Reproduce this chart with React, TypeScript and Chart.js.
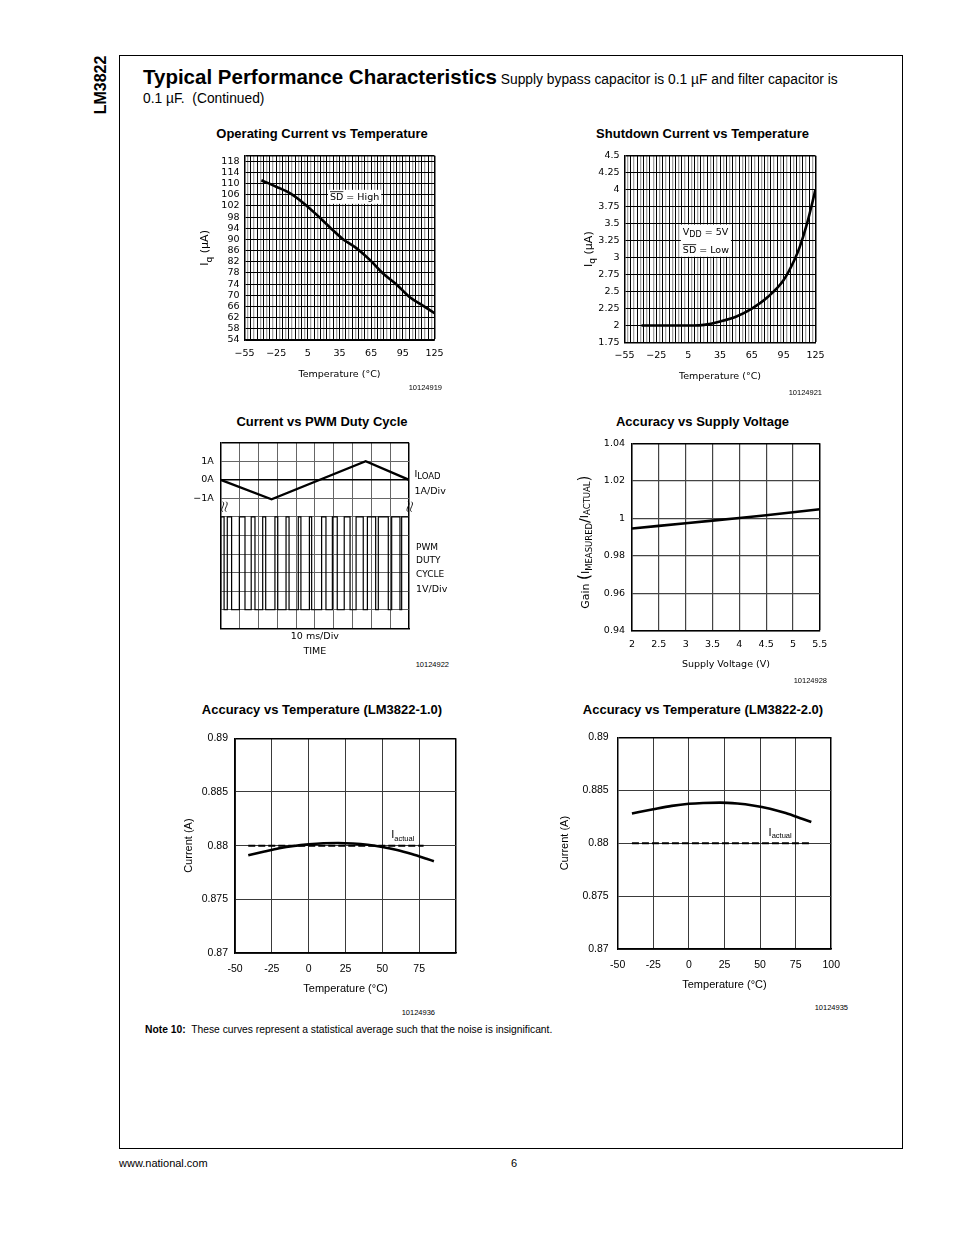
import React, { useEffect, useRef } from "react";
import { Chart, registerables } from "chart.js";

Chart.register(...registerables);

const TECH = "'DejaVu Sans', 'Liberation Sans', sans-serif";
const SANS = "'Liberation Sans', Arial, Helvetica, sans-serif";

// ===== Chart 1: Operating Current vs Temperature =====
const opTempLabels = [-55, -25, 5, 35, 65, 95, 125];
const opIqTicks = [54, 58, 62, 66, 70, 74, 78, 82, 86, 90, 94, 98, 102, 106, 110, 114, 118];
const opTemp = [-39, -25, -12, 1, 13, 26, 38, 51, 64, 76, 89, 101, 114, 125];
const opIq = [111.2, 108.9, 106.6, 103.0, 99.0, 94.3, 90.2, 86.9, 82.6, 77.9, 73.9, 69.5, 66.3, 63.6];

// ===== Chart 2: Shutdown Current vs Temperature =====
const sdTempLabels = [-55, -25, 5, 35, 65, 95, 125];
const sdIqTicks = [1.75, 2, 2.25, 2.5, 2.75, 3, 3.25, 3.5, 3.75, 4, 4.25, 4.5];
const sdTemp = [-39, -20, 0, 10, 20, 35, 50, 65, 80, 95, 105, 110, 117, 125];
const sdIq = [2.0, 2.0, 2.0, 2.0, 2.01, 2.06, 2.13, 2.25, 2.42, 2.67, 2.96, 3.15, 3.5, 4.0];

// ===== Chart 3: Current vs PWM Duty Cycle =====
const timeGridMs = [0, 10, 20, 30, 40, 50, 60, 70, 80, 90, 100];
const ampGrid = [-8, -7, -6, -5, -4, -3, -2, -1, 0, 1, 2];
const ampLabelValues = [1, 0, -1];
const ampLabelText = ["1A", "0A", "\u22121A"];
const voltLabelValues = [5, 0];
const voltLabelText = ["5V", "0V"];
const loadTimeMs = [0, 27, 77, 100];
const loadAmps = [0, -1.05, 1, 0];
const pwmRiseMs = [0, 3.5, 9.9, 16.2, 22.3, 28.8, 34.7, 41.2, 47.1, 53.6, 59.3, 65.6, 71.9, 77.9, 83.7, 90.8, 96.1];
const pwmFallMs = [1.8, 5.8, 12.9, 18.2, 23.9, 30.3, 36.3, 42.6, 48.3, 55.9, 61.9, 68.7, 75.7, 82.3, 89.0, 95.2, 100];
const pwmHighV = 5;
const pwmLowV = 0;

// ===== Chart 4: Accuracy vs Supply Voltage =====
const supplyTicks = [2, 2.5, 3, 3.5, 4, 4.5, 5, 5.5];
const gainTicks = [0.94, 0.96, 0.98, 1, 1.02, 1.04];
const supplyV = [2, 2.5, 3, 3.5, 4, 4.5, 5, 5.5];
const gainVal = [0.9946, 0.996, 0.9974, 0.9988, 1.0002, 1.0017, 1.0033, 1.0049];

// ===== Charts 5 & 6: Accuracy vs Temperature =====
const accTempTicks = [-50, -25, 0, 25, 50, 75, 100];
const acc1TempLabels = [-50, -25, 0, 25, 50, 75];
const acc2TempLabels = [-50, -25, 0, 25, 50, 75, 100];
const accCurTicks = [0.87, 0.875, 0.88, 0.885, 0.89];
const acc1Temp = [-41, -30, -20, -10, 0, 10, 20, 30, 40, 50, 60, 70, 80, 85];
const acc1Cur = [0.8791, 0.87945, 0.87975, 0.87997, 0.88012, 0.88022, 0.88025, 0.8802, 0.88008, 0.87988, 0.8796, 0.87922, 0.87878, 0.87855];
const acc1ActualTemp = [-41, 78];
const acc2Temp = [-40, -25, -12, 0, 10, 22, 34, 45, 57, 68, 80, 86];
const acc2Cur = [0.8828, 0.8832, 0.88352, 0.88372, 0.8838, 0.88383, 0.88374, 0.88356, 0.88325, 0.88284, 0.88228, 0.882];
const acc2ActualTemp = [-40, 85];
const iActual = 0.88;

// grid helper for the temperature axes of charts 1 and 2 (3 degC spacing)
const tempGrid: number[] = [];
for (let v = -55; v <= 125; v += 3) tempGrid.push(v);

const fmtMinus = (v: number) => (v < 0 ? "\u2212" + Math.abs(v) : String(v));
const setTicks = (vals: number[]) => (s: any) => {
  s.ticks = vals.map((v) => ({ value: v }));
};

type Part = { t: string; s: number; dy?: number; over?: boolean };

function richWidth(ctx: any, parts: Part[], fam: string) {
  let w = 0;
  for (const p of parts) {
    ctx.font = `${p.s}px ${fam}`;
    w += ctx.measureText(p.t).width;
  }
  return w;
}
function drawRich(ctx: any, x: number, y: number, parts: Part[], fam: string) {
  let cx = x;
  ctx.fillStyle = "#000";
  ctx.textAlign = "left";
  ctx.textBaseline = "alphabetic";
  for (const p of parts) {
    ctx.font = `${p.s}px ${fam}`;
    const yy = y + (p.dy || 0);
    ctx.fillText(p.t, cx, yy);
    const w = ctx.measureText(p.t).width;
    if (p.over) {
      ctx.save();
      ctx.strokeStyle = "#000";
      ctx.lineWidth = 0.8;
      ctx.beginPath();
      const oy = yy - p.s * 0.86;
      ctx.moveTo(cx, oy);
      ctx.lineTo(cx + w, oy);
      ctx.stroke();
      ctx.restore();
    }
    cx += w;
  }
  return cx - x;
}
function drawRotated(ctx: any, cx: number, cy: number, parts: Part[], fam: string, base: number) {
  ctx.save();
  ctx.translate(cx, cy);
  ctx.rotate(-Math.PI / 2);
  const w = richWidth(ctx, parts, fam);
  drawRich(ctx, -w / 2, base * 0.36, parts, fam);
  ctx.restore();
}
function boxedLines(ctx: any, left: number, lines: { y: number; parts: Part[] }[], fam: string) {
  let w = 0;
  for (const l of lines) w = Math.max(w, richWidth(ctx, l.parts, fam));
  const top = Math.min(...lines.map((l) => l.y)) - 10;
  const bottom = Math.max(...lines.map((l) => l.y)) + 4;
  ctx.fillStyle = "#fff";
  ctx.fillRect(left - 2, top, w + 4, bottom - top);
  for (const l of lines) drawRich(ctx, left, l.y, l.parts, fam);
}
function squiggle(ctx: any, x: number, yc: number) {
  ctx.save();
  ctx.strokeStyle = "#000";
  ctx.lineWidth = 0.9;
  for (const dx of [0, 3.5]) {
    ctx.beginPath();
    ctx.moveTo(x + dx, yc - 5);
    ctx.bezierCurveTo(x + dx + 3.5, yc - 2.5, x + dx - 3.5, yc + 2.5, x + dx, yc + 5);
    ctx.stroke();
  }
  ctx.restore();
}

const base = (pad: any) => ({
  responsive: false,
  maintainAspectRatio: false,
  animation: false,
  devicePixelRatio: 1,
  layout: { padding: pad },
  plugins: { legend: { display: false }, tooltip: { enabled: false }, title: { display: false } },
  elements: { point: { radius: 0 } },
});

const tempGridColor = (c: any) => {
  const v = c.tick ? c.tick.value : 0;
  return (v + 55) % 6 === 0 ? "#000" : "#a3a3a3";
};
const tempGridWidth = (c: any) => {
  const v = c.tick ? c.tick.value : 0;
  return v === 125 ? 1.5 : (v + 55) % 6 === 0 ? 1 : 1.3;
};

const iqTitle: Part[] = [
  { t: "I", s: 11 },
  { t: "q", s: 9, dy: 3.5 },
  { t: " (\u00b5A)", s: 11 },
];

function buildOp() {
  return {
    type: "line",
    data: {
      datasets: [
        {
          data: opTemp.map((t, i) => ({ x: t, y: opIq[i] })),
          borderColor: "#000",
          borderWidth: 2.6,
          pointRadius: 0,
          cubicInterpolationMode: "monotone",
          fill: false,
        },
      ],
    },
    options: {
      ...base({ left: 0, right: 20.5, top: 7, bottom: 0 }),
      scales: {
        x: {
          type: "linear",
          min: -55,
          max: 125,
          afterBuildTicks: setTicks(tempGrid),
          afterFit: (s: any) => {
            s.height = 50;
          },
          ticks: {
            autoSkip: false,
            maxRotation: 0,
            padding: 7.5,
            color: "#000",
            font: { family: TECH, size: 9.5 },
            callback: (v: number) => (opTempLabels.includes(v) ? fmtMinus(v) : ""),
          },
          grid: { drawTicks: false, color: tempGridColor, lineWidth: tempGridWidth },
          border: { color: "#000", width: 1.5 },
          title: {
            display: true,
            text: "Temperature (\u00b0C)",
            color: "#000",
            font: { family: TECH, size: 9.5 },
            padding: { top: 0, bottom: 10 },
          },
        },
        y: {
          type: "linear",
          min: 54,
          max: 120,
          afterBuildTicks: setTicks([...opIqTicks, 120]),
          afterFit: (s: any) => {
            s.width = 54.5;
          },
          ticks: {
            autoSkip: false,
            padding: 5,
            color: "#000",
            font: { family: TECH, size: 9.5 },
            callback: (v: number) => (opIqTicks.includes(v) ? String(v) : ""),
          },
          grid: {
            drawTicks: false,
            color: "#000",
            lineWidth: (c: any) => (c.tick && c.tick.value === 120 ? 1.5 : 1),
          },
          border: { color: "#000", width: 1.5 },
        },
      },
    },
    plugins: [
      {
        id: "opAnno",
        afterDraw(chart: any) {
          const { ctx, chartArea: a, scales } = chart;
          drawRotated(ctx, a.left - 40, (a.top + a.bottom) / 2, iqTitle, TECH, 11);
          boxedLines(ctx, scales.x.getPixelForValue(26), [
            { y: scales.y.getPixelForValue(104.2), parts: [{ t: "SD", s: 9.5, over: true }, { t: " = High", s: 9.5 }] },
          ], TECH);
        },
      },
    ],
  };
}

function buildSd() {
  return {
    type: "line",
    data: {
      datasets: [
        {
          data: sdTemp.map((t, i) => ({ x: t, y: sdIq[i] })),
          borderColor: "#000",
          borderWidth: 2.6,
          pointRadius: 0,
          cubicInterpolationMode: "monotone",
          fill: false,
        },
      ],
    },
    options: {
      ...base({ left: 0, right: 19.5, top: 8.5, bottom: 0 }),
      scales: {
        x: {
          type: "linear",
          min: -55,
          max: 125,
          afterBuildTicks: setTicks(tempGrid),
          afterFit: (s: any) => {
            s.height = 52.5;
          },
          ticks: {
            autoSkip: false,
            maxRotation: 0,
            padding: 7.8,
            color: "#000",
            font: { family: TECH, size: 9.5 },
            callback: (v: number) => (sdTempLabels.includes(v) ? fmtMinus(v) : ""),
          },
          grid: { drawTicks: false, color: tempGridColor, lineWidth: tempGridWidth },
          border: { color: "#000", width: 1.5 },
          title: {
            display: true,
            text: "Temperature (\u00b0C)",
            color: "#000",
            font: { family: TECH, size: 9.5 },
            padding: { top: 0, bottom: 12.3 },
          },
        },
        y: {
          type: "linear",
          min: 1.75,
          max: 4.5,
          afterBuildTicks: setTicks(sdIqTicks),
          afterFit: (s: any) => {
            s.width = 54.5;
          },
          ticks: {
            autoSkip: false,
            padding: 5,
            color: "#000",
            font: { family: TECH, size: 9.5 },
            callback: (v: number) => String(v),
          },
          grid: {
            drawTicks: false,
            color: "#000",
            lineWidth: (c: any) => (c.tick && c.tick.value === 4.5 ? 1.5 : 1),
          },
          border: { color: "#000", width: 1.5 },
        },
      },
    },
    plugins: [
      {
        id: "sdAnno",
        afterDraw(chart: any) {
          const { ctx, chartArea: a, scales } = chart;
          drawRotated(ctx, a.left - 36.5, (a.top + a.bottom) / 2, iqTitle, TECH, 11);
          boxedLines(ctx, scales.x.getPixelForValue(0), [
            { y: scales.y.getPixelForValue(3.339), parts: [{ t: "V", s: 9.5 }, { t: "DD", s: 8, dy: 2.5 }, { t: " = 5V", s: 9.5 }] },
            { y: scales.y.getPixelForValue(3.071), parts: [{ t: "SD", s: 9.5, over: true }, { t: " = Low", s: 9.5 }] },
          ], TECH);
        },
      },
    ],
  };
}

function buildPwm() {
  const pwmPts: { x: number; y: number }[] = [];
  pwmRiseMs.forEach((r, i) => {
    pwmPts.push({ x: r, y: pwmLowV }, { x: r, y: pwmHighV }, { x: pwmFallMs[i], y: pwmHighV }, { x: pwmFallMs[i], y: pwmLowV });
  });
  return {
    type: "line",
    data: {
      datasets: [
        {
          data: loadTimeMs.map((t, i) => ({ x: t, y: loadAmps[i] })),
          yAxisID: "yA",
          borderColor: "#000",
          borderWidth: 2.3,
          pointRadius: 0,
          tension: 0,
        },
        {
          data: pwmPts,
          yAxisID: "yV",
          borderColor: "#000",
          borderWidth: 1.2,
          pointRadius: 0,
          tension: 0,
          borderJoinStyle: "miter",
        },
      ],
    },
    options: {
      ...base({ left: 0, right: 51, top: 8.3, bottom: 0 }),
      scales: {
        x: {
          type: "linear",
          min: 0,
          max: 100,
          afterBuildTicks: setTicks(timeGridMs),
          afterFit: (s: any) => {
            s.height = 31.7;
          },
          ticks: { display: false },
          grid: {
            drawTicks: false,
            color: (c: any) => (c.tick && c.tick.value === 100 ? "#000" : "#666"),
            lineWidth: (c: any) => (c.tick && c.tick.value === 100 ? 1.5 : 1),
          },
          border: { color: "#000", width: 1.5 },
          title: {
            display: true,
            text: ["10 ms/Div", "TIME"],
            color: "#000",
            font: { family: TECH, size: 9.5, lineHeight: 15 / 9.5 },
            padding: { top: 0, bottom: 1 },
          },
        },
        yA: {
          type: "linear",
          position: "left",
          weight: 1,
          min: -8,
          max: 2,
          afterBuildTicks: setTicks(ampGrid),
          afterFit: (s: any) => {
            s.width = 30.7;
          },
          ticks: {
            autoSkip: false,
            padding: 7,
            color: "#000",
            font: { family: TECH, size: 9.5 },
            callback: (v: number) => {
              const i = ampLabelValues.indexOf(v);
              return i >= 0 ? ampLabelText[i] : "";
            },
          },
          grid: {
            drawTicks: false,
            color: (c: any) => (c.tick && (c.tick.value === 0 || c.tick.value === 2) ? "#000" : "#666"),
            lineWidth: (c: any) => (c.tick && c.tick.value === 2 ? 1.5 : c.tick && c.tick.value === 0 ? 1.4 : 1),
          },
          border: { color: "#000", width: 1.5 },
        },
        yV: {
          type: "linear",
          position: "left",
          weight: 0,
          min: -1,
          max: 9,
          afterBuildTicks: setTicks(voltLabelValues),
          afterFit: (s: any) => {
            s.width = 0;
          },
          ticks: {
            autoSkip: false,
            padding: 7,
            color: "#000",
            font: { family: TECH, size: 9.5 },
            callback: (v: number) => {
              const i = voltLabelValues.indexOf(v);
              return i >= 0 ? voltLabelText[i] : "";
            },
          },
          grid: { display: false },
          border: { display: false },
        },
      },
    },
    plugins: [
      {
        id: "pwmAnno",
        afterDraw(chart: any) {
          const { ctx, chartArea: a, scales } = chart;
          const yA = scales.yA;
          const yV = scales.yV;
          const lx = a.right + 5.5;
          drawRich(ctx, lx, yA.getPixelForValue(0.35) + 3.5, [{ t: "I", s: 9.5 }, { t: "LOAD", s: 8.5, dy: 2.5 }], TECH);
          drawRich(ctx, lx, yA.getPixelForValue(-0.55) + 3.5, [{ t: "1A/Div", s: 9.5 }], TECH);
          drawRich(ctx, lx + 1.5, yV.getPixelForValue(3.4) + 3.5, [{ t: "PWM", s: 9 }], TECH);
          drawRich(ctx, lx + 1.5, yV.getPixelForValue(2.7) + 3.5, [{ t: "DUTY", s: 9 }], TECH);
          drawRich(ctx, lx + 1.5, yV.getPixelForValue(1.95) + 3.5, [{ t: "CYCLE", s: 9 }], TECH);
          drawRich(ctx, lx + 1.5, yV.getPixelForValue(1.15) + 3.5, [{ t: "1V/Div", s: 9.5 }], TECH);
          squiggle(ctx, a.left + 2, yA.getPixelForValue(-1.45));
          squiggle(ctx, a.right - 1, yA.getPixelForValue(-1.45));
        },
      },
    ],
  };
}

function buildGain() {
  return {
    type: "line",
    data: {
      datasets: [
        {
          data: supplyV.map((v, i) => ({ x: v, y: gainVal[i] })),
          borderColor: "#000",
          borderWidth: 2.6,
          pointRadius: 0,
          tension: 0,
        },
      ],
    },
    options: {
      ...base({ left: 0, right: 14.3, top: 13.3, bottom: 0 }),
      scales: {
        x: {
          type: "linear",
          min: 2,
          max: 5.5,
          afterBuildTicks: setTicks(supplyTicks),
          afterFit: (s: any) => {
            s.height = 54;
          },
          ticks: {
            autoSkip: false,
            maxRotation: 0,
            padding: 7.6,
            color: "#000",
            font: { family: TECH, size: 9.5 },
            callback: (v: number) => String(v),
          },
          grid: {
            drawTicks: false,
            color: (c: any) => (c.tick && c.tick.value === 5.5 ? "#000" : "#444"),
            lineWidth: (c: any) => (c.tick && c.tick.value === 5.5 ? 1.5 : 1.2),
          },
          border: { color: "#000", width: 1.5 },
          title: {
            display: true,
            text: "Supply Voltage (V)",
            color: "#000",
            font: { family: TECH, size: 9.5 },
            padding: { top: 0, bottom: 14.3 },
          },
        },
        y: {
          type: "linear",
          min: 0.94,
          max: 1.04,
          afterBuildTicks: setTicks(gainTicks),
          afterFit: (s: any) => {
            s.width = 62;
          },
          ticks: {
            autoSkip: false,
            padding: 7,
            color: "#000",
            font: { family: TECH, size: 9.5 },
            callback: (v: number) => String(v),
          },
          grid: {
            drawTicks: false,
            color: (c: any) => (c.tick && c.tick.value === 1.04 ? "#000" : "#444"),
            lineWidth: (c: any) => (c.tick && c.tick.value === 1.04 ? 1.5 : 1.2),
          },
          border: { color: "#000", width: 1.5 },
        },
      },
    },
    plugins: [
      {
        id: "gainAnno",
        afterDraw(chart: any) {
          const { ctx, chartArea: a } = chart;
          drawRotated(ctx, a.left - 47, (a.top + a.bottom) / 2 + 5, [
            { t: "Gain ", s: 11 },
            { t: "(", s: 15 },
            { t: "I", s: 11 },
            { t: "MEASURED", s: 8.5, dy: 3 },
            { t: "/", s: 14 },
            { t: "I", s: 11, dy: -1 },
            { t: "ACTUAL", s: 8.5, dy: 1.5 },
            { t: ")", s: 15 },
          ], TECH, 11);
        },
      },
    ],
  };
}

function buildAcc(p: any) {
  return {
    type: "line",
    data: {
      datasets: [
        {
          data: p.temp.map((t: number, i: number) => ({ x: t, y: p.cur[i] })),
          borderColor: "#000",
          borderWidth: 2.6,
          pointRadius: 0,
          cubicInterpolationMode: "monotone",
        },
        {
          data: p.actualTemp.map((t: number) => ({ x: t, y: iActual })),
          borderColor: "#000",
          borderWidth: 2,
          borderDash: [7, 3],
          pointRadius: 0,
        },
      ],
    },
    options: {
      ...base(p.pad),
      scales: {
        x: {
          type: "linear",
          min: -50,
          max: 100,
          afterBuildTicks: setTicks(accTempTicks),
          afterFit: (s: any) => {
            s.height = p.xHeight;
          },
          ticks: {
            autoSkip: false,
            maxRotation: 0,
            padding: p.xTickPad,
            color: "#000",
            font: { family: SANS, size: 10.5 },
            callback: (v: number) => (p.tempLabels.includes(v) ? String(v) : ""),
          },
          grid: {
            drawTicks: false,
            color: (c: any) => (c.tick && c.tick.value === 100 ? "#000" : "#3a3a3a"),
            lineWidth: (c: any) => (c.tick && c.tick.value === 100 ? 1.5 : 1),
          },
          border: { color: "#000", width: 1.5 },
          title: {
            display: true,
            text: "Temperature (\u00b0C)",
            color: "#000",
            font: { family: SANS, size: 11 },
            padding: { top: 0, bottom: p.xTitlePad },
          },
        },
        y: {
          type: "linear",
          min: 0.87,
          max: 0.89,
          afterBuildTicks: setTicks(accCurTicks),
          afterFit: (s: any) => {
            s.width = p.yWidth;
          },
          ticks: {
            autoSkip: false,
            padding: p.yTickPad,
            color: "#000",
            font: { family: SANS, size: 10.5 },
            callback: (v: number) => String(v),
          },
          grid: {
            drawTicks: false,
            color: (c: any) => (c.tick && c.tick.value === 0.89 ? "#000" : "#3a3a3a"),
            lineWidth: (c: any) => (c.tick && c.tick.value === 0.89 ? 1.5 : 1),
          },
          border: { color: "#000", width: 1.5 },
          title: {
            display: true,
            text: "Current (A)",
            color: "#000",
            font: { family: SANS, size: 11 },
            padding: { top: p.yTitlePad, bottom: 0 },
          },
        },
      },
    },
    plugins: [
      {
        id: "accAnno" + p.key,
        afterDraw(chart: any) {
          const { ctx, scales } = chart;
          drawRich(ctx, scales.x.getPixelForValue(56), scales.y.getPixelForValue(0.88068), [
            { t: "I", s: 11 },
            { t: "actual", s: 7.5, dy: 2.5 },
          ], SANS);
        },
      },
    ],
  };
}

function ChartCanvas({ x, y, w, h, build }: any) {
  const ref = useRef<HTMLCanvasElement | null>(null);
  useEffect(() => {
    if (!ref.current) return;
    const chart = new Chart(ref.current, build());
    return () => chart.destroy();
  }, []);
  return (
    <canvas
      ref={ref}
      width={w}
      height={h}
      style={{ position: "absolute", left: x, top: y, width: w, height: h }}
    />
  );
}

function Txt({ x, y, size, bold, align = "left", children, family }: any) {
  const lh = Math.round(size * 1.2);
  const tx = align === "center" ? "translateX(-50%)" : align === "right" ? "translateX(-100%)" : undefined;
  return (
    <div
      style={{
        position: "absolute",
        left: x,
        top: y - lh / 2,
        fontSize: size,
        lineHeight: lh + "px",
        fontWeight: bold ? 700 : 400,
        whiteSpace: "nowrap",
        transform: tx,
        fontFamily: family || SANS,
      }}
    >
      {children}
    </div>
  );
}

export default function App() {
  return (
    <div
      style={{
        position: "absolute",
        left: 0,
        top: 0,
        width: 954,
        height: 1235,
        background: "#fff",
        fontFamily: SANS,
        color: "#000",
        overflow: "hidden",
      }}
    >
      <div
        style={{
          position: "absolute",
          left: 119,
          top: 55,
          width: 784,
          height: 1094,
          border: "1px solid #000",
          boxSizing: "border-box",
        }}
      />
      <div
        style={{
          position: "absolute",
          left: 101,
          top: 85,
          transform: "translate(-50%,-50%) rotate(-90deg)",
          fontWeight: 700,
          fontSize: 16,
          lineHeight: "18px",
          whiteSpace: "nowrap",
        }}
      >
        LM3822
      </div>
      <div style={{ position: "absolute", left: 143, top: 65, whiteSpace: "nowrap", lineHeight: "24px" }}>
        <span style={{ fontWeight: 700, fontSize: 20.5 }}>Typical Performance Characteristics</span>
        <span style={{ fontSize: 13.8 }}> Supply bypass capacitor is 0.1 µF and filter capacitor is</span>
      </div>
      <Txt x={143} y={98.5} size={13.8}>
        {"0.1 µF.\u00a0\u00a0(Continued)"}
      </Txt>

      <Txt x={322} y={134} size={13} bold align="center">Operating Current vs Temperature</Txt>
      <Txt x={702.5} y={134} size={13} bold align="center">Shutdown Current vs Temperature</Txt>
      <Txt x={322} y={422} size={13} bold align="center">Current vs PWM Duty Cycle</Txt>
      <Txt x={702.5} y={422} size={13} bold align="center">Accuracy vs Supply Voltage</Txt>
      <Txt x={322} y={710} size={13} bold align="center">Accuracy vs Temperature (LM3822-1.0)</Txt>
      <Txt x={703} y={710} size={13} bold align="center">Accuracy vs Temperature (LM3822-2.0)</Txt>

      <ChartCanvas x={190} y={145} w={265} h={245} build={buildOp} />
      <ChartCanvas x={570} y={145} w={265} h={250} build={buildSd} />
      <ChartCanvas x={190} y={430} w={270} h={230} build={buildPwm} />
      <ChartCanvas x={570} y={430} w={265} h={255} build={buildGain} />
      <ChartCanvas
        x={180}
        y={725}
        w={290}
        h={280}
        build={() =>
          buildAcc({
            key: "1",
            temp: acc1Temp,
            cur: acc1Cur,
            actualTemp: acc1ActualTemp,
            tempLabels: acc1TempLabels,
            pad: { left: 0, right: 14, top: 9.5, bottom: 0 },
            xHeight: 52,
            xTickPad: 10,
            xTitlePad: 9.4,
            yWidth: 55,
            yTickPad: 7,
            yTitlePad: 2.4,
          })
        }
      />
      <ChartCanvas
        x={555}
        y={722}
        w={295}
        h={280}
        build={() =>
          buildAcc({
            key: "2",
            temp: acc2Temp,
            cur: acc2Cur,
            actualTemp: acc2ActualTemp,
            tempLabels: acc2TempLabels,
            pad: { left: 0, right: 15.7, top: 10, bottom: 0 },
            xHeight: 53,
            xTickPad: 10,
            xTitlePad: 10.4,
            yWidth: 62.7,
            yTickPad: 9,
            yTitlePad: 3.4,
          })
        }
      />

      <Txt x={442} y={387} size={7.5} align="right">10124919</Txt>
      <Txt x={822} y={392} size={7.5} align="right">10124921</Txt>
      <Txt x={449} y={664} size={7.5} align="right">10124922</Txt>
      <Txt x={827} y={680} size={7.5} align="right">10124928</Txt>
      <Txt x={435} y={1012} size={7.5} align="right">10124936</Txt>
      <Txt x={848} y={1007} size={7.5} align="right">10124935</Txt>

      <div style={{ position: "absolute", left: 145, top: 1024, fontSize: 10.3, lineHeight: "12px", whiteSpace: "nowrap" }}>
        <b>Note 10:</b>
        {"\u00a0 These curves represent a statistical average such that the noise is insignificant."}
      </div>

      <Txt x={119} y={1163} size={11}>www.national.com</Txt>
      <Txt x={511} y={1163} size={11}>6</Txt>
    </div>
  );
}
